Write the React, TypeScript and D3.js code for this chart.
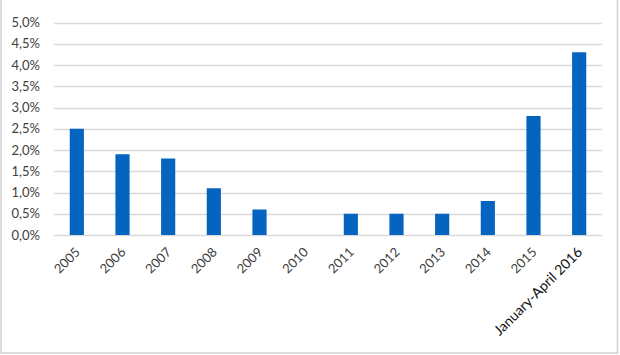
import { useEffect, useRef } from "react";
import * as d3 from "d3";

const years = [
  "2005", "2006", "2007", "2008", "2009", "2010",
  "2011", "2012", "2013", "2014", "2015", "January-April 2016",
];
const shares = [2.5, 1.9, 1.8, 1.1, 0.6, 0, 0.5, 0.5, 0.5, 0.8, 2.8, 4.3];
const yTicks = [0, 0.5, 1, 1.5, 2, 2.5, 3, 3.5, 4, 4.5, 5];

export default function App() {
  const ref = useRef<SVGSVGElement>(null);

  useEffect(() => {
    const width = 620;
    const height = 355;
    const left = 54;
    const right = 602;
    const top = 22.5;
    const bottom = 235;

    const svg = d3.select(ref.current).attr("width", width).attr("height", height);
    svg.selectAll("*").remove();

    svg
      .append("rect")
      .attr("x", 1)
      .attr("y", -2)
      .attr("width", 616.5)
      .attr("height", 355)
      .attr("fill", "white")
      .attr("stroke", "#d0d0d0")
      .attr("stroke-width", 1.5);

    const x = d3
      .scaleBand()
      .domain(years)
      .range([left, right])
      .paddingInner(0.69)
      .paddingOuter(0.345);
    const y = d3.scaleLinear().domain([0, 5]).range([bottom, top]);

    // gridlines
    svg
      .append("g")
      .selectAll("line")
      .data(yTicks)
      .enter()
      .append("line")
      .attr("x1", left)
      .attr("x2", right)
      .attr("y1", (d) => Math.round(y(d)) + 0.5)
      .attr("y2", (d) => Math.round(y(d)) + 0.5)
      .attr("stroke", "#d9d9d9")
      .attr("stroke-width", 1.5);

    // y labels
    svg
      .append("g")
      .selectAll("text")
      .data(yTicks)
      .enter()
      .append("text")
      .attr("x", 40)
      .attr("y", (d) => y(d))
      .attr("dy", "0.35em")
      .attr("text-anchor", "end")
      .attr("fill", "#404040")
      .style("font-family", "Lato, 'Open Sans', sans-serif")
      .style("font-size", "13px")
      .text((d) => d3.format(".1f")(d).replace(".", ",") + "%");

    // bars
    svg
      .append("g")
      .selectAll("rect")
      .data(shares)
      .enter()
      .append("rect")
      .attr("x", (_, i) => x(years[i])!)
      .attr("y", (d) => y(d))
      .attr("width", x.bandwidth())
      .attr("height", (d) => bottom - y(d))
      .attr("fill", "#0564c0");

    // x labels
    svg
      .append("g")
      .selectAll("text")
      .data(years)
      .enter()
      .append("text")
      .attr(
        "transform",
        (d) => `translate(${x(d)! + x.bandwidth() / 2 + 4},253) rotate(-45)`,
      )
      .attr("text-anchor", "end")
      .attr("fill", (d) => (d.length > 4 ? "#111" : "#404040"))
      .style("font-family", "Lato, 'Open Sans', sans-serif")
      .style("font-size", (d) => (d.length > 4 ? "14px" : "13px"))
      .text((d) => d);
  }, []);

  return (
    <svg
      ref={ref}
      style={{ position: "absolute", left: 0, top: 0, background: "white" }}
    ></svg>
  );
}
